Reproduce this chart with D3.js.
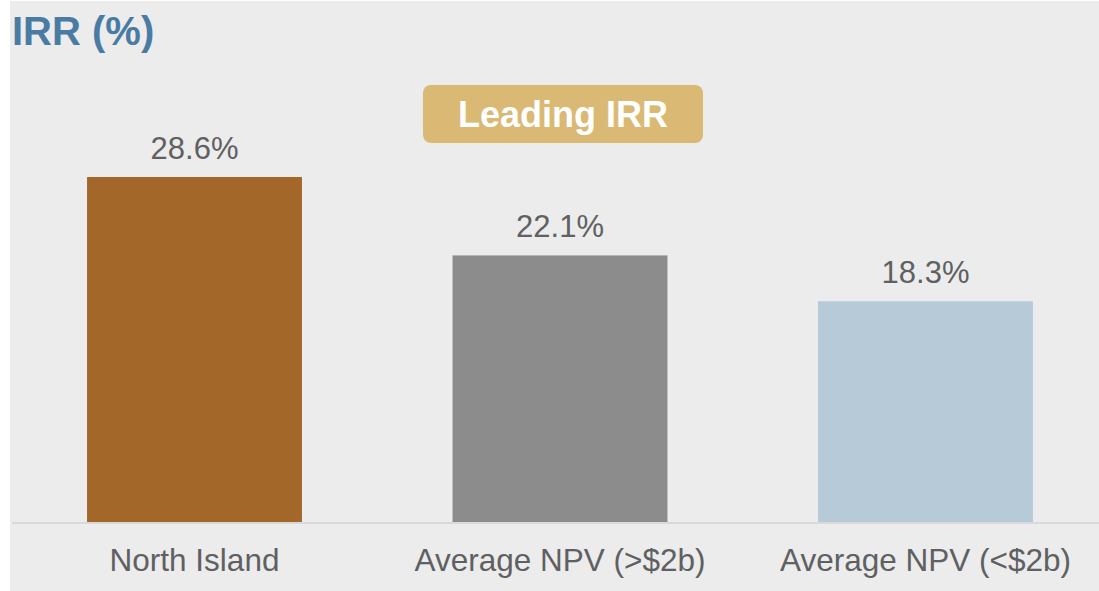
<!DOCTYPE html>
<html><head><meta charset="UTF-8">
<title>IRR (%)</title>
<script src="https://d3js.org/d3.v7.min.js"></script>
<style>
  body { margin: 0; background: #fff; }
  text { font-family: Arial, "Liberation Sans", sans-serif; }
</style>
</head>
<body>
<svg id="chart" width="1099" height="591"></svg>
<script>
// categories and values
var categories = ["North Island", "Average NPV (>$2b)", "Average NPV (<$2b)"];
var irrValues = [28.6, 22.1, 18.3];
var barColors = ["#a3672a", "#8c8c8c", "#b7cad8"];

var width = 1099, height = 591;
var svg = d3.select("#chart");

// grey panel
svg.append("rect")
  .attr("x", 10).attr("y", 1)
  .attr("width", width - 10).attr("height", height - 1)
  .attr("fill", "#ececec");

// scales
var x = d3.scaleBand()
  .domain(categories)
  .range([11.75, 1108.25])
  .paddingInner(0.412)
  .paddingOuter(0.206);

var y = d3.scaleLinear()
  .domain([0, 28.6])
  .range([522, 177]);

// title
svg.append("text")
  .attr("x", 12).attr("y", 45)
  .attr("font-size", 40).attr("font-weight", "bold")
  .attr("fill", "#4a7ba3")
  .text("IRR (%)");

// bars
svg.selectAll(".bar")
  .data(irrValues)
  .enter().append("rect")
  .attr("class", "bar")
  .attr("x", function(d, i) { return x(categories[i]); })
  .attr("width", x.bandwidth())
  .attr("y", function(d) { return y(d); })
  .attr("height", function(d) { return y(0) - y(d); })
  .attr("fill", function(d, i) { return barColors[i]; });

// baseline
svg.append("line")
  .attr("x1", 12).attr("x2", width)
  .attr("y1", y(0) + 1).attr("y2", y(0) + 1)
  .attr("stroke", "#d9d9d9").attr("stroke-width", 2);

// value labels
svg.selectAll(".val")
  .data(irrValues)
  .enter().append("text")
  .attr("class", "val")
  .attr("x", function(d, i) { return x(categories[i]) + x.bandwidth() / 2; })
  .attr("y", function(d) { return y(d) - 18; })
  .attr("text-anchor", "middle")
  .attr("font-size", 31)
  .attr("fill", "#5f6062")
  .text(function(d) { return d.toFixed(1) + "%"; });

// category labels
var xAxis = svg.append("g")
  .attr("transform", "translate(0," + (y(0) + 1) + ")")
  .call(d3.axisBottom(x).tickSize(0).tickPadding(0));
xAxis.select(".domain").remove();
xAxis.selectAll("text")
  .attr("dy", null)
  .attr("y", 48)
  .attr("font-size", 31.5)
  .attr("font-family", "Arial, 'Liberation Sans', sans-serif")
  .attr("fill", "#5f6062");

// "Leading IRR" badge
var badge = svg.append("g");
badge.append("rect")
  .attr("x", 423).attr("y", 85)
  .attr("width", 280).attr("height", 58)
  .attr("rx", 8).attr("ry", 8)
  .attr("fill", "#d9b973");
badge.append("text")
  .attr("x", 563).attr("y", 127)
  .attr("text-anchor", "middle")
  .attr("font-size", 36).attr("font-weight", "bold")
  .attr("fill", "#ffffff")
  .text("Leading IRR");
</script>
</body></html>
